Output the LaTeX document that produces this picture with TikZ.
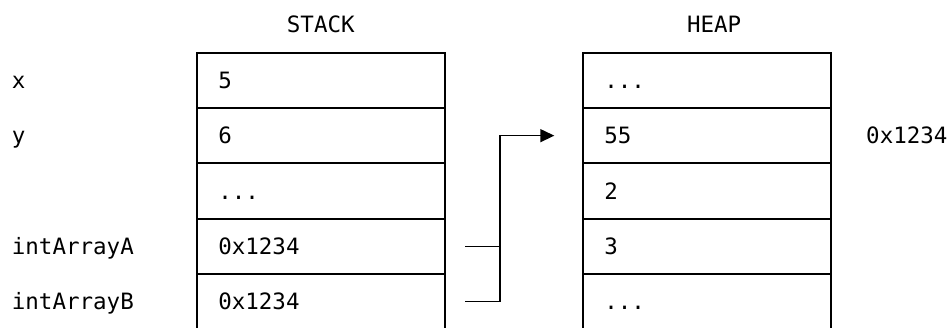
\documentclass[tikz,border=0pt]{standalone}
\usepackage{fontspec}
\setmainfont{DejaVu Sans Mono}
\usetikzlibrary{arrows.meta}
\begin{document}
\begin{tikzpicture}[x=1pt,y=-1pt,
  every node/.style={font=\fontsize{22.5}{27}\selectfont},
  cell/.style={draw, line width=1.7pt, rectangle, anchor=north west,
    text width=205.1pt, inner xsep=21.6pt, inner ysep=0pt, outer sep=0pt,
    minimum height=55.3pt, text height=16.4pt, text depth=0pt, align=left},
  lbl/.style={inner sep=0pt, text height=16.4pt, text depth=0pt},
  conn/.style={line width=1.5pt},
  arr/.style={conn, -{Triangle[length=14pt,width=13pt]}}]
\useasboundingbox (0,0) rectangle (951,327);
% titles
\node[inner sep=0pt, anchor=base] (stacktitle) at (320.8,32.3) {STACK};
\node[inner sep=0pt, anchor=base] (heaptitle) at (714.2,32.3) {HEAP};
% stack cells
\node[cell] (s1) at (196.7,52.7) {5};
\node[cell] (s2) at (196.7,108.0) {6};
\node[cell] (s3) at (196.7,163.3) {...};
\node[cell] (s4) at (196.7,218.7) {0x1234};
\node[cell] (s5) at (196.7,274.0) {0x1234};
% heap cells
\node[cell] (h1) at (582.7,52.7) {...};
\node[cell] (h2) at (582.7,108.0) {55};
\node[cell] (h3) at (582.7,163.3) {2};
\node[cell] (h4) at (582.7,218.7) {3};
\node[cell] (h5) at (582.7,274.0) {...};
% left labels
\node[lbl, anchor=west] (lx) at (11.7,80.3) {x};
\node[lbl, anchor=west] (ly) at (11.7,135.7) {y};
\node[lbl, anchor=west] (la) at (11.7,246.3) {intArrayA};
\node[lbl, anchor=west] (lb) at (11.7,301.7) {intArrayB};
% address label
\node[lbl, anchor=west] (addr) at (866,135.7) {0x1234};
% connectors
\coordinate (pa) at ([xshift=20pt]s4.east);
\coordinate (pb) at ([xshift=20pt]s5.east);
\coordinate (jx) at (500,0);
\coordinate (tip) at ([xshift=-28.4pt]h2.west);
\draw[conn] (pa) -- (pa -| jx);
\draw[arr] (pb) -- (pb -| jx) |- (tip);
\end{tikzpicture}
\end{document}
